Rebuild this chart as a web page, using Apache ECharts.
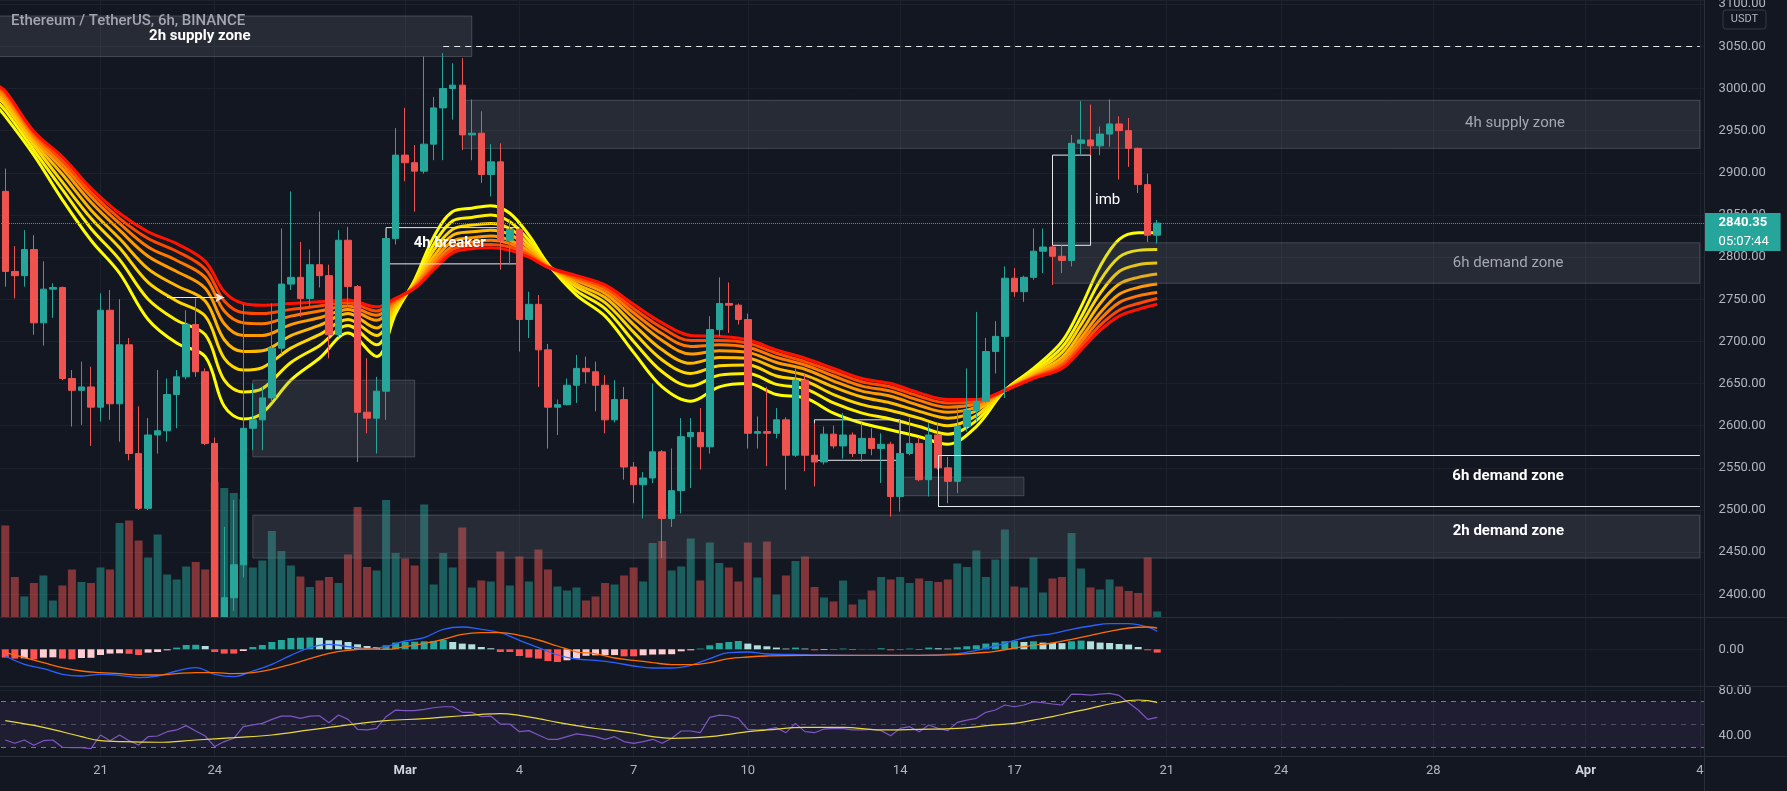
<!DOCTYPE html>
<html>
<head>
<meta charset="utf-8">
<title>ETHUSDT 6h</title>
<script src="https://cdn.jsdelivr.net/npm/echarts@6.0.0/dist/echarts.min.js"></script>
<style>
  html, body { margin: 0; background: #131722; }
  #chart { width: 1787px; height: 791px; }
</style>
</head>
<body>
<div id="chart"></div>
<script>
// candle index 0 = 2022-02-18 12:00 UTC, one candle every 6h
// [open, high, low, close]
const candles = [
  [2878,2905,2765,2783],[2783,2813,2751,2778],[2778,2832,2765,2809],[2809,2826,2708,2722],[2722,2795,2695,2762],
  [2762,2769,2728,2764],[2764,2765,2654,2656],[2656,2666,2599,2642],[2642,2676,2601,2646],[2646,2670,2576,2622],
  [2622,2757,2605,2737],[2737,2761,2607,2626],[2626,2750,2581,2696],[2696,2704,2559,2567],[2567,2623,2500,2502],
  [2502,2609,2500,2589],[2589,2666,2567,2594],[2594,2656,2581,2637],[2637,2666,2597,2658],[2658,2737,2655,2720],
  [2720,2751,2658,2664],[2664,2668,2577,2579],[2579,2586,2300,2330],[2330,2480,2310,2396],[2396,2512,2380,2435],
  [2435,2744,2420,2597],[2597,2650,2571,2607],[2607,2646,2571,2633],[2633,2745,2628,2692],[2692,2834,2685,2768],
  [2768,2878,2761,2776],[2776,2818,2729,2751],[2751,2809,2741,2791],[2791,2854,2764,2778],[2778,2791,2680,2708],
  [2708,2832,2705,2820],[2820,2836,2741,2765],[2765,2767,2557,2616],[2616,2680,2591,2609],[2609,2658,2567,2641],
  [2641,2834,2607,2822],[2822,2953,2815,2921],[2921,2977,2890,2912],[2912,2933,2854,2902],[2902,3038,2899,2934],
  [2934,2990,2915,2977],[2977,3042,2915,3000],[3000,3030,2963,3004],[3004,3036,2927,2945],[2945,2987,2915,2947],
  [2947,2973,2888,2898],[2898,2934,2872,2913],[2913,2935,2785,2820],[2820,2845,2791,2833],[2833,2836,2688,2726],
  [2726,2759,2704,2744],[2744,2755,2646,2690],[2690,2697,2573,2622],[2622,2631,2589,2625],[2625,2656,2624,2648],
  [2648,2684,2627,2668],[2668,2682,2650,2664],[2664,2676,2617,2648],[2648,2660,2591,2607],[2607,2654,2604,2631],
  [2631,2646,2536,2551],[2551,2557,2508,2530],[2530,2545,2490,2538],[2538,2650,2532,2569],[2569,2571,2443,2490],
  [2490,2573,2480,2523],[2523,2609,2496,2587],[2587,2609,2526,2592],[2592,2621,2548,2575],[2575,2730,2567,2714],
  [2714,2776,2706,2745],[2745,2770,2710,2743],[2743,2745,2720,2726],[2726,2733,2573,2591],[2591,2611,2573,2593],
  [2593,2646,2552,2591],[2591,2621,2585,2607],[2607,2610,2524,2565],[2565,2668,2563,2654],[2654,2661,2546,2565],
  [2565,2603,2528,2557],[2557,2599,2554,2590],[2590,2600,2573,2576],[2576,2615,2561,2589],[2589,2592,2563,2567],
  [2567,2603,2557,2585],[2585,2597,2565,2573],[2573,2591,2532,2578],[2578,2581,2492,2516],[2516,2607,2498,2567],
  [2567,2609,2565,2579],[2579,2586,2534,2536],[2536,2603,2516,2589],[2589,2603,2548,2550],[2550,2563,2508,2534],
  [2534,2621,2520,2599],[2599,2668,2593,2618],[2618,2735,2605,2629],[2629,2704,2627,2688],[2688,2724,2662,2706],
  [2706,2789,2633,2775],[2775,2787,2753,2759],[2759,2778,2747,2776],[2776,2834,2773,2807],[2807,2834,2781,2812],
  [2812,2814,2767,2801],[2801,2814,2781,2796],[2796,2945,2789,2935],[2935,2985,2921,2939],[2939,2981,2921,2932],
  [2932,2955,2921,2946],[2946,2987,2931,2958],[2958,2967,2892,2950],[2950,2965,2907,2929],[2929,2930,2876,2886],
  [2886,2899,2818,2826],[2826,2844,2816,2840.35]
];

// volume, thousand ETH
const volume = [
  183,80,41,68,83,33,63,95,70,68, 99,95,188,193,153,119,165,85,75,101,
  110,95,270,258,248,236,99,113,172,132, 103,81,60,73,80,68,125,220,100,93,
  234,128,117,103,225,65,128,99,179,59, 73,71,131,63,121,71,135,95,61,53,
  59,33,41,68,65,83,99,71,148,152, 93,101,157,73,149,108,99,71,149,79,
  151,45,83,112,121,60,39,31,73,25, 35,53,80,75,80,68,77,72,70,75,
  107,100,133,80,115,175,61,59,119,49, 77,80,168,97,59,55,75,61,52,48,
  119,11
];

// EMA ribbon, read at these candle indices (fast yellow -> slow red)
const ribbonIdx = [-1,0,3,6,9,12,15,18,21,23,25,27,30,33,36,39,41,43,45,47,49,51,53,55,57,60,63,66,69,72,75,78,81,84,87,90,93,96,99,102,105,108,111,113,115,117,119,121];
const ema1 = [2980,2967,2921,2868,2820,2781,2726,2698,2682,2623,2608,2615,2654,2680,2710,2682,2733,2773,2824,2854,2858,2861,2852,2826,2792,2755,2730,2687,2646,2629,2646,2650,2637,2633,2615,2603,2595,2587,2578,2599,2642,2668,2700,2741,2789,2821,2829,2829];
const ema2 = [2986,2974,2927,2880,2834,2797,2750,2725,2708,2654,2640,2644,2675,2695,2719,2696,2737,2771,2815,2843,2847,2850,2842,2820,2791,2760,2739,2700,2664,2647,2660,2662,2649,2644,2627,2615,2608,2599,2590,2606,2642,2665,2693,2729,2772,2800,2808,2809];
const ema3 = [2991,2980,2933,2889,2846,2811,2770,2748,2730,2680,2666,2669,2692,2708,2726,2707,2741,2769,2808,2833,2838,2840,2834,2815,2790,2765,2746,2711,2678,2662,2671,2672,2659,2653,2637,2625,2618,2609,2600,2612,2642,2663,2687,2720,2757,2783,2791,2793];
const ema4 = [2995,2984,2937,2898,2856,2822,2786,2766,2748,2702,2688,2689,2707,2719,2733,2716,2743,2767,2801,2826,2830,2832,2827,2811,2790,2768,2752,2720,2690,2674,2681,2680,2668,2660,2646,2634,2627,2617,2609,2618,2642,2661,2681,2711,2745,2768,2776,2780];
const ema5 = [2998,2989,2941,2905,2865,2832,2801,2783,2763,2721,2707,2707,2720,2728,2738,2725,2746,2766,2796,2819,2823,2825,2820,2807,2789,2772,2757,2728,2701,2685,2689,2687,2675,2667,2653,2641,2635,2624,2616,2622,2642,2659,2677,2704,2734,2756,2764,2768];
const ema6 = [3001,2992,2944,2910,2872,2840,2812,2796,2776,2736,2722,2721,2730,2736,2742,2731,2748,2765,2792,2813,2818,2820,2816,2804,2789,2774,2761,2734,2709,2694,2696,2693,2681,2672,2659,2647,2641,2630,2622,2626,2642,2658,2673,2699,2726,2746,2754,2758];
const ema7 = [3003,2995,2947,2915,2877,2846,2822,2807,2786,2748,2734,2733,2738,2742,2746,2736,2750,2764,2788,2809,2814,2815,2812,2802,2788,2776,2764,2739,2716,2701,2701,2698,2686,2676,2664,2652,2646,2635,2627,2628,2642,2657,2671,2694,2719,2737,2745,2751];
const ema8 = [3005,2997,2949,2919,2882,2852,2830,2816,2795,2759,2745,2743,2745,2747,2749,2741,2751,2763,2785,2805,2810,2811,2808,2800,2788,2778,2767,2744,2722,2707,2706,2702,2690,2680,2668,2656,2650,2639,2631,2631,2642,2656,2668,2690,2713,2730,2738,2744];

// MACD
const macdHist = [
  -8.3,-9.3,-9.0,-10,-8.3,-8.0,-9.3,-10,-8.7,-8.5, -5.7,-4.3,-4,-4.5,-5.7,-3.3,-2.7,-1,1.7,4.3,
  4.5,3.3,-2.7,-4.3,-4.3,-1.7,2.3,4.3,7.3,9.3, 11.3,11.6,11.8,11.5,9,9,7.3,5,3.3,2.3,
  4,6.7,7.3,7.6,8,8.3,9.3,7.3,5.7,5, 2.3,1,-2.7,-2.7,-6.7,-8.3,-9.3,-11.7,-12.7,-11,
  -9.3,-6.5,-6,-5.9,-5.8,-7,-7,-6,-5.3,-5.1, -4.9,-2,-1,0.7,4,6.3,7.3,8.3,5.7,4,
  3,1.7,0.7,1.7,0.7,-1,-0.7,-0.3,0.7,-0.7, 0.2,-0.2,1,-1,-0.3,0.7,-0.7,1.7,1,0.7,
  2,3,4,5.7,6.7,8,8.2,7.3,8,6.7, 6.3,6.2,8,8.7,8,6.7,6.3,5.3,4.7,2.3,
  -1,-3.3
];
const macdIdx = [0,2,4,6,8,10,12,14,16,18,20,22,24,26,28,30,32,34,36,38,40,42,44,46,48,50,52,54,56,58,60,62,64,66,68,70,72,74,76,78,80,84,90,96,100,102,104,106,108,110,112,114,116,118,120,121];
const macdLine = [-6.7,-15,-19.3,-25,-26.7,-25,-26,-28.3,-26.7,-21.7,-18.3,-25,-27.3,-21.7,-15,-6,1.7,5,2.7,0.7,2.7,8.3,11.7,20,22.3,20,16.7,9,1.7,-5.7,-9.7,-11,-13.3,-16.7,-18.7,-18.7,-16,-9.3,-3.3,-2.7,-4.7,-5.3,-6,-6,-4.3,-1,3.3,9,13.3,15.7,20,23.3,25.7,25.7,22.3,18];
const signalLine = [-3.3,-8.3,-13.3,-18.3,-21.7,-23.3,-24.3,-25.7,-25.7,-24.3,-23.3,-23.3,-24.3,-23.3,-20,-15,-9.3,-4,-1,0.3,0,2.7,6,10,15,16.7,16.7,14,9.3,3.3,-2.5,-4.5,-8.7,-11,-13.3,-15.3,-15.3,-13.3,-9.3,-7.7,-6.7,-6,-6,-6,-5.3,-3.7,-2,1.3,4,6.3,10,14,18,21.3,22.3,21.3];

// RSI
const rsi = [
  36.4,33.5,36.4,31.8,35.8,36.4,30,29.7,29.7,28.8, 40.8,35.8,40.8,35.8,32,39.3,39.9,43.7,45.2,49,
  44.3,39.9,30.6,35,37.9,48.1,49.6,51,54.5,57.4, 57.4,55.4,57.4,57.7,51.6,58.3,54.5,45.8,45.2,46.6,
  56.9,62.7,62.1,62.1,63.3,64.7,65.6,65.6,60.7,60.7, 56.9,57.4,50.4,50.4,43.7,44.6,40.8,37,37,39.3,
  41.7,40.6,39.3,37,39.3,35,33.5,35,37,33.5, 37.9,44.3,44.3,42.8,56.3,58.3,57.7,55.4,45.8,45.2,
  45.8,47.2,42.8,51,43.7,42.8,46,46.6,46.3,45.2, 45.2,45.8,44.6,40.2,46.6,48.1,43.7,49.6,46.6,44.6,
  51.9,53.9,55.4,60.7,62.7,67.1,65.6,67.1,70,69.1, 68,67.1,76.7,76.4,75.8,76.7,77.3,75.5,69.1,62.7,
  54.5,56.3
];
const rsiMaIdx = [0,4,8,10,12,16,20,24,28,32,36,40,44,48,50,52,54,56,58,60,62,64,66,68,70,72,74,76,78,80,84,88,92,96,100,104,106,108,110,112,114,116,118,119,120,121];
const rsiMa = [53.4,47.5,39.3,35.8,35,34.4,36.4,38.5,40.8,45.2,49.6,53.4,55.1,57.7,58.9,59.5,58,55.1,51.9,49,46.5,44.6,42.3,39.3,37.9,38.2,39.3,41.4,43.7,45.2,47.5,47.5,45.2,45.8,46.6,49.6,51,53.9,56.9,60.7,64.2,68,70.9,71.5,70.9,69.4];

// time axis labels (candle index -> text)
const xTickIdx = [10,22,42,54,66,78,94,106,122,134,150,166,178];
const xTickText = ['21','24','Mar','4','7','10','14','17','21','24','28','Apr','4'];

const lastPrice = 2840.35;
const countdown = '05:07:44';

// drawn zones: candle index range and price range (to: 178 = right edge)
const zoneName   = ['2h supply zone','4h supply zone','6h demand zone','','','2h demand zone','4h breaker','imb','','6h demand zone'];
const zoneFrom   = [-1, 48, 110, 26, 94, 26, 40, 110, 85, 98];
const zoneTo     = [49, 178, 178, 43, 107, 178, 54, 114, 94, 178];
const zoneTop    = [3086, 2986, 2817, 2654, 2539, 2494, 2835, 2921, 2607, 2565];
const zoneBottom = [3038, 2929, 2769, 2563, 2517, 2443, 2792, 2814, 2559, 2504];

// ---------------------------------------------------------------
const OFF = 1;          // one empty slot before the first candle (Feb 18 06:00)
const SLOTS = 180;
const RIGHT = SLOTS - 1 - OFF;
const FONT = 'Roboto, "Noto Sans", sans-serif';
const BG = '#131722';
const UP = '#26a69a', DOWN = '#ef5350';
const GRID_LINE = '#1d212c';
const AXIS_TEXT = '#b2b5be';
const WHITE_LINE = '#e8e9ed';

const t0 = Date.UTC(2022, 1, 18, 6);
const cats = Array.from({ length: SLOTS }, (_, k) =>
  new Date(t0 + k * 6 * 3600e3).toISOString().slice(0, 16));
const tickSlots = xTickIdx.map(i => i + OFF);
const tickText = {};
tickSlots.forEach((k, n) => { tickText[k] = xTickText[n]; });

const pairs = (idx, vals) => idx.map((i, n) => [i + OFF, vals[n]]);

const gridBase = { left: -8.98, right: 82.4, containLabel: false, outerBoundsMode: 'none' };
const grids = [
  Object.assign({ top: 0, height: 617 }, gridBase),
  Object.assign({ top: 417, height: 200 }, gridBase),
  // the MACD pane is opaque so the Feb 24 wick stays inside the price pane
  Object.assign({ top: 617, height: 69, show: true, z: 4.5, backgroundColor: BG, borderWidth: 0 }, gridBase),
  Object.assign({ top: 686, height: 70.5 }, gridBase),
];

const xAxes = grids.map((g, n) => ({
  type: 'category', gridIndex: n, data: cats, boundaryGap: true,
  axisLine: { show: false }, axisTick: { show: false }, splitLine: { show: false },
  axisLabel: n === 3 ? {
    show: true, margin: 8, color: AXIS_TEXT, fontSize: 13, fontFamily: FONT,
    interval: (idx) => tickText[idx] !== undefined,
    formatter: (val, idx) => {
      const t = tickText[idx] || '';
      return (t === 'Mar' || t === 'Apr') ? '{b|' + t + '}' : t;
    },
    rich: { b: { fontWeight: 'bold', color: '#d1d4dc', fontSize: 13, fontFamily: FONT } }
  } : { show: false }
}));

const yLabel = { color: AXIS_TEXT, fontSize: 13, fontFamily: FONT, margin: 14 };
const yAxes = [
  { type: 'value', gridIndex: 0, position: 'right', min: 2373.1, max: 3105, splitNumber: 15,
    axisLine: { show: false }, axisTick: { show: false },
    axisLabel: Object.assign({ formatter: v => (Math.abs(v % 50) < 1e-6 ? v.toFixed(2) : '') }, yLabel),
    splitLine: { lineStyle: { color: GRID_LINE, width: 1 } } },
  { type: 'value', gridIndex: 1, min: 0, max: 400, show: false },
  { type: 'value', gridIndex: 2, position: 'right', min: -36.7, max: 32.3, splitNumber: 2, z: 6,
    axisLine: { show: false }, axisTick: { show: false }, splitLine: { show: false },
    axisLabel: Object.assign({ formatter: v => (v === 0 ? '0.00' : '') }, yLabel) },
  { type: 'value', gridIndex: 3, position: 'right', min: 21.9, max: 83.8, splitNumber: 3,
    axisLine: { show: false }, axisTick: { show: false }, splitLine: { show: false },
    axisLabel: Object.assign({ formatter: v => (v === 40 || v === 80 ? v.toFixed(2) : '') }, yLabel) },
];

// vertical grid lines at the time labels, one set per pane
const vGrid = (n, z) => ({
  type: 'line', xAxisIndex: n, yAxisIndex: n, data: [], silent: true,
  markLine: { z: z, silent: true, animation: false, symbol: ['none', 'none'], label: { show: false },
    lineStyle: { color: GRID_LINE, width: 1, type: 'solid' },
    data: tickSlots.map(k => ({ xAxis: k })) }
});

const ribbonColors = ['#ffff00', '#fff000', '#ffd600', '#ffb900', '#ff9a00', '#ff7800', '#ff4800', '#ff1200'];
const ribbons = [ema1, ema2, ema3, ema4, ema5, ema6, ema7, ema8].map((vals, n) => ({
  type: 'line', xAxisIndex: 0, yAxisIndex: 0, z: 2, silent: true,
  data: pairs(ribbonIdx, vals), smooth: 0.35, showSymbol: false,
  lineStyle: { width: 3, color: ribbonColors[n] }
}));

// zone looks
const fillStyle = { color: 'rgba(120,123,134,0.2)', borderColor: 'rgba(120,123,134,0.45)', borderWidth: 1 };
const outlineStyle = { color: 'rgba(0,0,0,0)', borderColor: WHITE_LINE, borderWidth: 1 };
const openStyle = { color: 'rgba(0,0,0,0)', borderWidth: 0 };
const zoneLook = [
  { outline: false, offset: [-34, 0], color: '#ffffff', weight: 'bold' },
  { outline: false, offset: [434, -1], color: '#a5a8b0', weight: 'normal' },
  { outline: false, offset: [132, 0], color: '#a5a8b0', weight: 'normal' },
  { outline: false },
  { outline: false },
  { outline: false, offset: [532, -5], color: '#ffffff', weight: 'bold' },
  { outline: true, offset: [-3, -2], color: '#ffffff', weight: 'bold' },
  { outline: true, position: 'right', distance: 4, color: '#ffffff', weight: 'normal' },
  { outline: true },
  { outline: true, offset: [189, -5], color: '#ffffff', weight: 'bold' },
];
// outlined zones that run into the price scale are open on the right
const openEdges = [];
const zoneData = zoneName.map((name, n) => {
  const look = zoneLook[n];
  const open = look.outline && zoneTo[n] === RIGHT;
  if (open) {
    const a = zoneFrom[n] + OFF, b = zoneTo[n] + OFF;
    openEdges.push([{ coord: [a, zoneTop[n]] }, { coord: [b, zoneTop[n]] }]);
    openEdges.push([{ coord: [a, zoneBottom[n]] }, { coord: [b, zoneBottom[n]] }]);
    openEdges.push([{ coord: [a, zoneTop[n]] }, { coord: [a, zoneBottom[n]] }]);
  }
  return [{
    name: name, xAxis: zoneFrom[n] + OFF, yAxis: zoneTop[n],
    itemStyle: open ? openStyle : (look.outline ? outlineStyle : fillStyle),
    label: {
      show: !!name, position: look.position || 'inside', offset: look.offset || [0, 0],
      distance: look.distance || 5, formatter: name, color: look.color,
      fontSize: 15, fontWeight: look.weight, fontFamily: FONT
    }
  }, { xAxis: zoneTo[n] + OFF, yAxis: zoneBottom[n] }];
});

const histColor = (p) => {
  const i = p.dataIndex - OFF;
  const h = macdHist[i], prev = i > 0 ? macdHist[i - 1] : h;
  if (h >= 0) return prev < h ? '#26a69a' : '#b2dfdb';
  return prev < h ? '#ffcdd2' : '#ff5252';
};

const option = {
  backgroundColor: BG,
  animation: false,
  textStyle: { fontFamily: FONT },
  grid: grids,
  xAxis: xAxes,
  yAxis: yAxes,
  graphic: [
    { type: 'text', x: 11, y: 21, z: 20, silent: true,
      style: { text: 'Ethereum / TetherUS, 6h, BINANCE', fill: '#a3a6af', font: '500 15px ' + FONT, verticalAlign: 'middle' } },
    { type: 'rect', z: 20, silent: true, shape: { x: 1723, y: 10, width: 43, height: 19, r: 3 },
      style: { fill: BG, stroke: '#363a45', lineWidth: 1 } },
    { type: 'text', x: 1744.5, y: 19.5, z: 21, silent: true,
      style: { text: 'USDT', fill: AXIS_TEXT, font: '11px ' + FONT, align: 'center', verticalAlign: 'middle' } },
    { type: 'line', z: 20, silent: true, shape: { x1: 0, y1: 617.5, x2: 1787, y2: 617.5 }, style: { stroke: '#2a2e39', lineWidth: 1 } },
    { type: 'line', z: 20, silent: true, shape: { x1: 0, y1: 686.5, x2: 1787, y2: 686.5 }, style: { stroke: '#2a2e39', lineWidth: 1 } },
    { type: 'line', z: 20, silent: true, shape: { x1: 0, y1: 756.5, x2: 1787, y2: 756.5 }, style: { stroke: '#2a2e39', lineWidth: 1 } },
    { type: 'line', z: 20, silent: true, shape: { x1: 1704.5, y1: 0, x2: 1704.5, y2: 791 }, style: { stroke: '#2a2e39', lineWidth: 1 } },
  ],
  series: [
    vGrid(0, 0), vGrid(2, 5), vGrid(3, 0),
    {
      name: 'Volume', type: 'bar', xAxisIndex: 1, yAxisIndex: 1, z: 1, silent: true,
      barWidth: 8, data: ['-'].concat(volume),
      itemStyle: { color: (p) => {
        const c = candles[p.dataIndex - OFF];
        return c && c[3] >= c[0] ? 'rgba(38,166,154,0.5)' : 'rgba(239,83,80,0.5)';
      } }
    },
    ...ribbons,
    {
      name: 'zones', type: 'line', xAxisIndex: 0, yAxisIndex: 0, data: [], silent: true,
      markArea: { z: 3, silent: true, animation: false, data: zoneData },
      markLine: {
        z: 5, silent: true, animation: false, symbol: ['none', 'none'], label: { show: false },
        lineStyle: { color: WHITE_LINE, type: 'solid', width: 1 },
        data: [
          [{ coord: [46 + OFF, 3050], lineStyle: { color: WHITE_LINE, type: [6, 5], width: 1 } },
           { coord: [RIGHT + OFF, 3050] }],
          [{ coord: [17 + OFF, 2752], symbol: 'none' },
           { coord: [23 + OFF, 2752], symbol: 'arrow', symbolSize: [7, 9] }]
        ].concat(openEdges)
      }
    },
    {
      name: 'ETHUSDT', type: 'candlestick', xAxisIndex: 0, yAxisIndex: 0, z: 4, silent: true,
      barWidth: 7, clip: true,
      data: [['-', '-', '-', '-']].concat(candles.map(([o, h, l, c]) => [o, c, l, h])),
      itemStyle: { color: UP, color0: DOWN, borderColor: UP, borderColor0: DOWN, borderWidth: 1 },
      markLine: {
        silent: true, animation: false, symbol: ['none', 'none'],
        lineStyle: { color: UP, type: 'dotted', width: 1 },
        label: {
          show: true, position: 'end', distance: 0, padding: [18, 0, 0, 0],
          formatter: '{p|' + lastPrice.toFixed(2) + '}\n{t|' + countdown + '}',
          rich: {
            p: { backgroundColor: UP, color: '#ffffff', fontSize: 13, fontWeight: 'bold', fontFamily: FONT,
                 width: 62, lineHeight: 19, height: 19, padding: [0, 0, 0, 14] },
            t: { backgroundColor: UP, color: '#ffffff', fontSize: 13, fontFamily: FONT,
                 width: 62, lineHeight: 19, height: 19, padding: [0, 0, 0, 14] }
          }
        },
        data: [{ yAxis: lastPrice }]
      }
    },
    {
      name: 'Histogram', type: 'bar', xAxisIndex: 2, yAxisIndex: 2, z: 6, silent: true,
      barWidth: 7, data: ['-'].concat(macdHist), itemStyle: { color: histColor },
      markLine: { z: 5, silent: true, animation: false, symbol: ['none', 'none'], label: { show: false },
        lineStyle: { color: GRID_LINE, width: 1, type: 'solid' }, data: [{ yAxis: 0 }] }
    },
    {
      name: 'MACD', type: 'line', xAxisIndex: 2, yAxisIndex: 2, z: 7, silent: true,
      data: pairs(macdIdx, macdLine), smooth: 0.4, showSymbol: false,
      lineStyle: { color: '#2962ff', width: 1.3 }
    },
    {
      name: 'Signal', type: 'line', xAxisIndex: 2, yAxisIndex: 2, z: 7, silent: true,
      data: pairs(macdIdx, signalLine), smooth: 0.4, showSymbol: false,
      lineStyle: { color: '#ff6d00', width: 1.3 }
    },
    {
      name: 'RSI', type: 'line', xAxisIndex: 3, yAxisIndex: 3, z: 3, silent: true,
      data: ['-'].concat(rsi), showSymbol: false,
      lineStyle: { color: '#7e57c2', width: 1.2 },
      markArea: { z: 1, silent: true, animation: false,
        itemStyle: { color: 'rgba(126,87,194,0.1)' },
        data: [[{ yAxis: 70 }, { yAxis: 30 }]] },
      markLine: { z: 1, silent: true, animation: false, symbol: ['none', 'none'], label: { show: false },
        data: [
          { yAxis: 70, lineStyle: { color: '#787b86', type: [5, 5], width: 1 } },
          { yAxis: 50, lineStyle: { color: 'rgba(120,123,134,0.55)', type: [5, 5], width: 1 } },
          { yAxis: 30, lineStyle: { color: '#787b86', type: [5, 5], width: 1 } },
          { yAxis: 40, lineStyle: { color: GRID_LINE, type: 'solid', width: 1 } },
          { yAxis: 80, lineStyle: { color: GRID_LINE, type: 'solid', width: 1 } }
        ] }
    },
    {
      name: 'RSI MA', type: 'line', xAxisIndex: 3, yAxisIndex: 3, z: 3, silent: true,
      data: pairs(rsiMaIdx, rsiMa), smooth: 0.4, showSymbol: false,
      lineStyle: { color: '#e8d93a', width: 1.2 }
    }
  ]
};

const chart = echarts.init(document.getElementById('chart'), null, { renderer: 'canvas' });
chart.setOption(option);
</script>
</body>
</html>
